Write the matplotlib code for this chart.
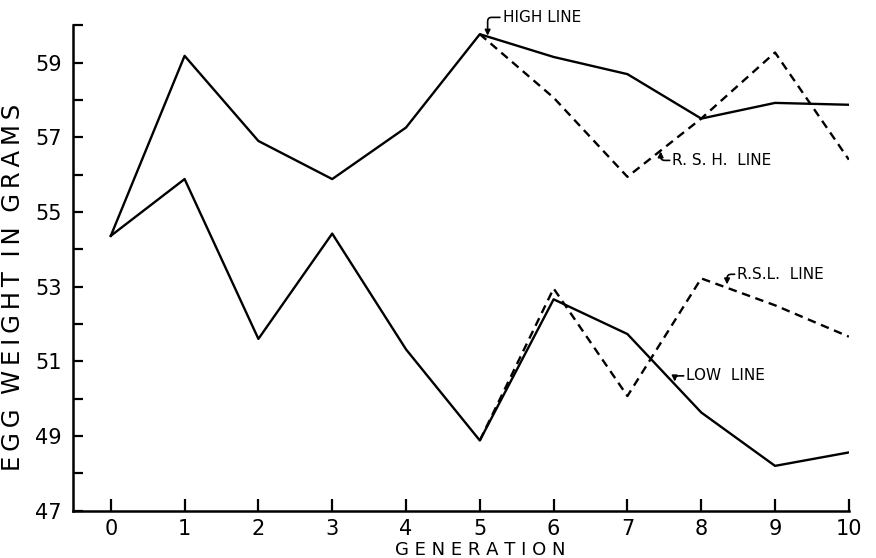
import matplotlib
matplotlib.use('Agg')
import matplotlib.pyplot as plt
import numpy as np

generation = [0, 1, 2, 3, 4, 5, 6, 7, 8, 9, 10]
high_line = [54.36, 59.18, 56.9, 55.88, 57.26, 59.76, 59.15, 58.69, 57.5, 57.92, 57.87]
low_line = [54.36, 55.88, 51.6, 54.42, 51.32, 48.88, 52.66, 51.73, 49.63, 48.2, 48.56]
# relaxed selection lines branch off at generation 5
rs_gen = [5, 6, 7, 8, 9, 10]
rsh_line = [59.76, 58.06, 55.94, 57.5, 59.27, 56.4]
rsl_line = [48.88, 52.95, 50.07, 53.22, 52.5, 51.66]

y_ticks = [47, 49, 51, 53, 55, 57, 59]


def spaced(s, sep=" "):
    words = s.split(" ")
    return (sep * 3).join(sep.join(w) for w in words)


fig = plt.figure(figsize=(8.76, 5.58), dpi=100)
ax = fig.add_axes([0.083, 0.0848, 0.886, 0.87])

lw = 1.7
ax.plot(generation, high_line, color='black', lw=lw)
ax.plot(generation, low_line, color='black', lw=lw)
ax.plot(rs_gen, rsh_line, color='black', lw=lw, dashes=(3.6, 2.4))
ax.plot(rs_gen, rsl_line, color='black', lw=lw, dashes=(3.6, 2.4))

ax.set_xlim(-0.516, 10)
ax.set_ylim(47, 60)
ax.set_xticks(generation)
ax.set_xticklabels([str(g) for g in generation])
ax.set_yticks(np.arange(47, 61, 1))
ax.set_yticklabels([str(t) if t in y_ticks else "" for t in range(47, 61)])

for side in ['top', 'right']:
    ax.spines[side].set_visible(False)
for side in ['left', 'bottom']:
    ax.spines[side].set_linewidth(1.8)

ax.tick_params(axis='y', direction='in', length=7, width=1.6, labelsize=15, pad=8)
ax.tick_params(axis='x', direction='in', length=9, width=1.6, labelsize=15, pad=6)

ax.set_xlabel(spaced("GENERATION"), fontsize=13)
ax.xaxis.set_label_coords(0.525, -0.062)
ax.set_ylabel(spaced("EGG WEIGHT IN GRAMS", "\u2009"), fontsize=17.5)
ax.yaxis.set_label_coords(-0.061, 0.46)

arrow = dict(arrowstyle='-|>', color='black', lw=1.2, mutation_scale=8,
             shrinkA=0, shrinkB=0, relpos=(0, 0.5))


def label(text, tip, text_pos):
    ax.annotate(text, xy=tip, xytext=text_pos, fontsize=11, va='center', ha='left',
                annotation_clip=False,
                arrowprops=dict(arrow, connectionstyle='angle,angleA=0,angleB=90,rad=4'))


label("HIGH LINE", (5.106, 59.72), (5.31, 60.21))
label("R. S. H.  LINE", (7.45, 56.62), (7.61, 56.38))
label("R.S.L.  LINE", (8.35, 53.06), (8.49, 53.33))
label("LOW  LINE", (7.64, 50.46), (7.8, 50.61))

fig.savefig('out.png', dpi=100)
